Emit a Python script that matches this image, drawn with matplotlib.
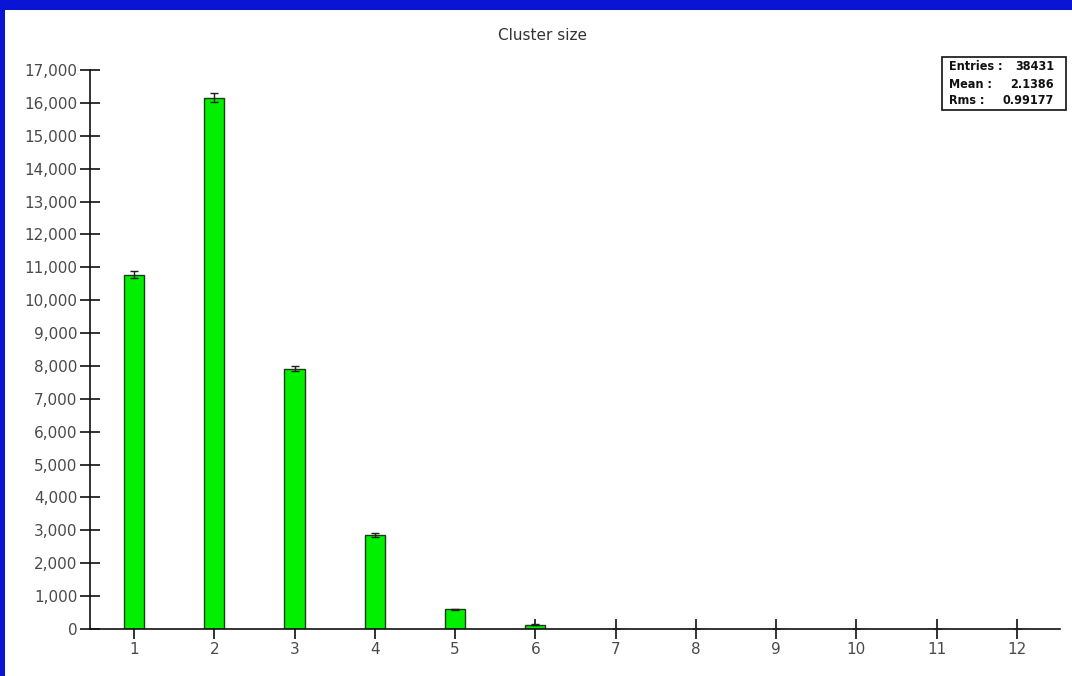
import matplotlib.pyplot as plt
from matplotlib.patches import Rectangle
from matplotlib.ticker import FuncFormatter, MultipleLocator
import numpy as np

# histogram of cluster sizes
cluster_size = [1, 2, 3, 4, 5, 6, 7, 8, 9, 10, 11, 12]
entries = [10770, 16160, 7920, 2865, 595, 135, 9, 3, 1, 1, 1, 1]
errors = np.sqrt(entries)

stats_labels = ['Entries :', 'Mean :', 'Rms :']
stats_values = ['38431', '2.1386', '0.99177']

fig = plt.figure(figsize=(10.72, 6.76), dpi=100)
fig.patch.set_facecolor('#0a14d4')

# white panel
fig.patches.append(Rectangle((5 / 1072, 0), 1 - 5 / 1072, 1 - 10 / 676,
                             transform=fig.transFigure, facecolor='white',
                             edgecolor='none', zorder=-10))

ax = fig.add_axes([90 / 1072, 47 / 676, 970 / 1072, 559 / 676])
ax.set_facecolor('none')
ax.set_axisbelow(True)

ax.bar(cluster_size, entries, width=0.25, color='#00f000',
       edgecolor='#1c3c1c', linewidth=1.0, zorder=2)
ax.errorbar(cluster_size, entries, yerr=errors, fmt='none', ecolor='#202020',
            elinewidth=1.0, capsize=3, capthick=1.0, zorder=3)

ax.set_xlim(0.452, 12.536)
ax.set_ylim(0, 17000)
ax.set_xticks(cluster_size)
ax.yaxis.set_major_locator(MultipleLocator(1000))
ax.yaxis.set_major_formatter(FuncFormatter(lambda v, p: f'{int(v):,}'))

for s in ['top', 'right']:
    ax.spines[s].set_visible(False)
for s in ['left', 'bottom']:
    ax.spines[s].set_linewidth(1.2)
    ax.spines[s].set_color('#111111')

ax.tick_params(axis='both', direction='inout', length=14, width=1.2,
               color='#111111', labelsize=11, labelcolor='#4a4a4a', pad=2)

fig.text(543 / 1072, 1 - 35 / 676, 'Cluster size', ha='center', va='center',
         fontsize=11, color='#333333')

# statistics box
fig.patches.append(Rectangle((942 / 1072, 1 - 110 / 676), 124 / 1072, 53 / 676,
                             transform=fig.transFigure, facecolor='white',
                             edgecolor='#111111', linewidth=1.2, zorder=5))
for i, (lab, val) in enumerate(zip(stats_labels, stats_values)):
    y = 1 - (67 + i * 17) / 676
    fig.text(949 / 1072, y, lab, ha='left', va='center', fontsize=9,
             fontweight='bold', fontstretch='condensed', color='#111111', zorder=6)
    fig.text(1054 / 1072, y, val, ha='right', va='center', fontsize=9,
             fontweight='bold', fontstretch='condensed', color='#111111', zorder=6)

fig.savefig('out.png', dpi=100, facecolor=fig.get_facecolor())
